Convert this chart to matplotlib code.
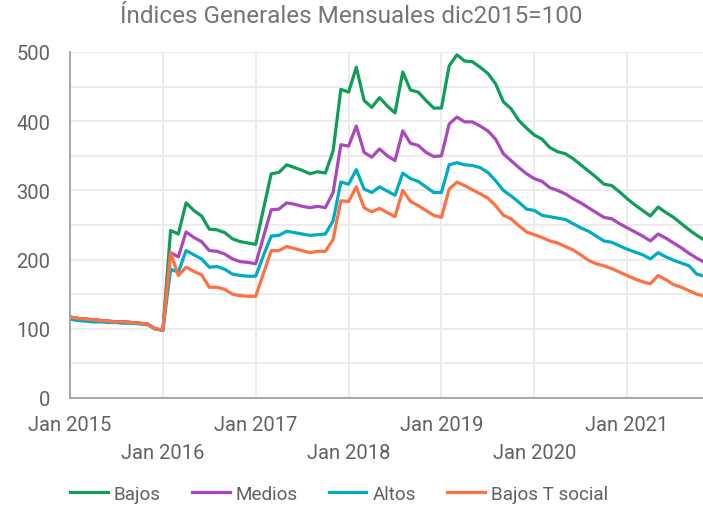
import matplotlib
matplotlib.use('Agg')
import matplotlib.pyplot as plt
import numpy as np

plt.rcParams['font.family'] = ['Roboto', 'DejaVu Sans']

# monthly index, month 0 = Jan 2015
n_months = 83
months = np.arange(n_months)

bajos = [117, 115, 114, 113, 112, 111, 110, 110, 109, 108, 107, 100, 98,
         242, 237, 282, 271, 263, 244, 243, 239, 230, 226, 224, 222,
         273, 324, 326, 337, 333, 329, 324, 327, 325, 357, 446, 442,
         478, 430, 420, 434, 422, 412, 471, 445, 442, 430, 419, 419,
         480, 496, 487, 486, 478, 469, 454, 428, 418, 401, 390, 380,
         374, 362, 356, 353, 346, 337, 328, 319, 309, 307, 298, 288,
         279, 271, 263, 276, 268, 261, 252, 243, 235, 228]
medios = [117, 115, 114, 113, 112, 111, 110, 110, 109, 108, 107, 100, 98,
          210, 204, 240, 232, 226, 213, 212, 208, 201, 197, 196, 194,
          233, 272, 273, 282, 280, 277, 275, 277, 275, 297, 366, 364,
          393, 355, 348, 360, 350, 343, 386, 368, 365, 355, 349, 350,
          396, 406, 399, 399, 393, 386, 374, 353, 343, 333, 324, 317,
          313, 304, 300, 295, 288, 282, 275, 268, 261, 259, 252, 246,
          240, 234, 227, 237, 231, 224, 217, 209, 202, 196]
altos = [114, 112, 111, 110, 110, 109, 109, 108, 108, 107, 106, 100, 98,
         186, 182, 213, 207, 201, 189, 190, 186, 179, 177, 176, 176,
         206, 234, 235, 241, 239, 237, 235, 236, 237, 256, 312, 309,
         330, 302, 297, 305, 299, 293, 325, 317, 313, 305, 297, 297,
         337, 340, 337, 336, 333, 326, 314, 300, 292, 283, 273, 271,
         264, 262, 260, 258, 252, 246, 241, 234, 227, 225, 220, 215,
         211, 207, 201, 210, 204, 199, 195, 191, 179, 176]
bajos_ts = [117, 115, 114, 113, 112, 111, 110, 110, 109, 108, 107, 100, 98,
            210, 177, 189, 183, 178, 160, 160, 157, 150, 148, 147, 147,
            180, 213, 213, 219, 216, 213, 210, 212, 212, 229, 285, 284,
            305, 275, 269, 274, 268, 262, 300, 284, 278, 271, 264, 261,
            302, 312, 307, 301, 295, 289, 278, 264, 259, 249, 240, 236,
            232, 227, 224, 219, 214, 207, 199, 194, 191, 187, 182, 177,
            172, 168, 165, 177, 171, 164, 160, 155, 150, 147]

series = [('Bajos', bajos, '#0f9d58'),
          ('Medios', medios, '#ab47bc'),
          ('Altos', altos, '#00acc1'),
          ('Bajos T social', bajos_ts, '#ff7043')]

year_ticks = [0, 12, 24, 36, 48, 60, 72]
year_labels = ['Jan 2015', '\nJan 2016', 'Jan 2017', '\nJan 2018',
               'Jan 2019', '\nJan 2020', 'Jan 2021']

fig = plt.figure(figsize=(7.03, 5.06), dpi=100)
ax = fig.add_axes([70 / 703, 107 / 506, 633 / 703, 346 / 506])

for name, vals, col in series:
    ax.plot(months, vals, color=col, lw=2.3, label=name, solid_joinstyle='round')

ax.set_xlim(0, 81.8)
ax.set_ylim(0, 500)
ax.set_yticks(np.arange(0, 501, 100))
ax.set_yticks(np.arange(50, 500, 100), minor=True)
ax.set_xticks(year_ticks)
ax.set_xticklabels(year_labels)
ax.grid(True, which='both', axis='y', color='#ebebeb', lw=1.3)
ax.grid(True, which='major', axis='x', color='#ebebeb', lw=1.3)
ax.set_axisbelow(True)

for s in ['top', 'right']:
    ax.spines[s].set_visible(False)
ax.spines['left'].set_color('#a0a0a0')
ax.spines['bottom'].set_color('#a0a0a0')
ax.spines['left'].set_linewidth(1.3)
ax.spines['bottom'].set_linewidth(1.3)

ax.tick_params(axis='both', which='both', length=0, labelsize=14.5, labelcolor='#616161')
ax.tick_params(axis='y', pad=14)
ax.tick_params(axis='x', pad=12)
for lab in ax.get_xticklabels():
    lab.set_linespacing(1.6)

fig.suptitle('Índices Generales Mensuales dic2015=100', x=0.5, y=0.99,
             fontsize=17.5, color='#757575')

fig.legend(loc='lower center', bbox_to_anchor=(0.482, -0.029), ncol=4, frameon=False,
           fontsize=13.6, labelcolor='#616161', handlelength=2.0, handletextpad=0.32,
           columnspacing=1.64)

fig.savefig('out.png', dpi=100)
